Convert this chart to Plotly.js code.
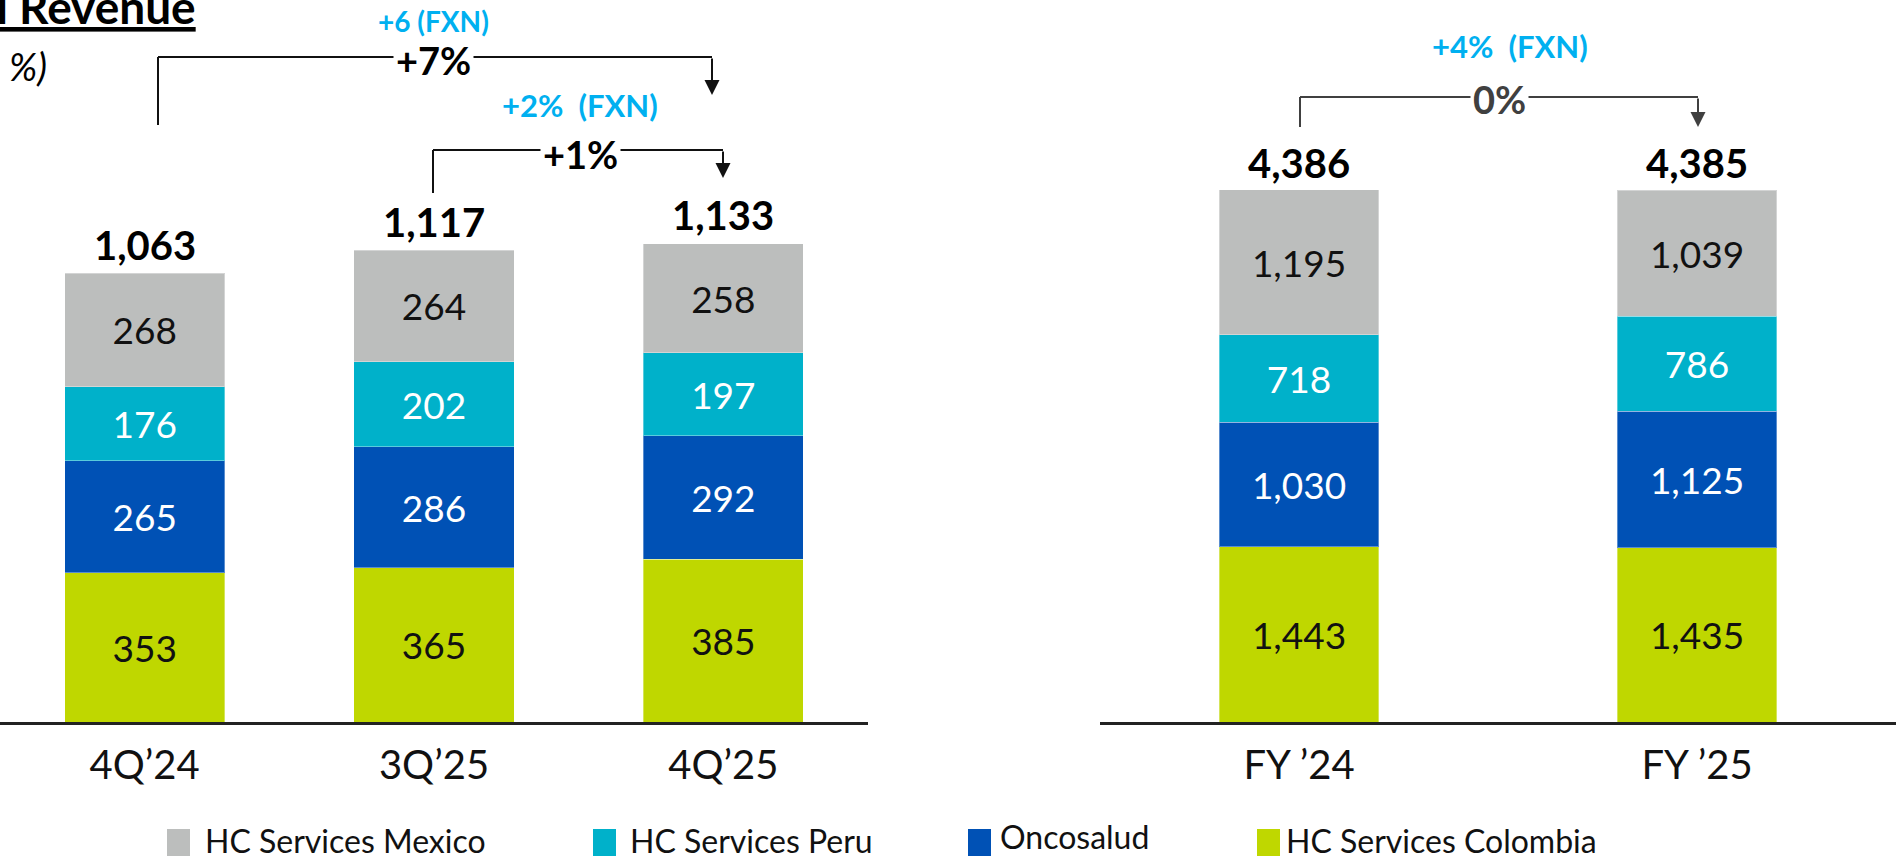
<!DOCTYPE html>
<html>
<head>
<meta charset="utf-8">
<script src="https://cdn.plot.ly/plotly-3.0.1.min.js"></script>
<style>
  html, body { margin: 0; padding: 0; background: #ffffff; }
  #chart { width: 1896px; height: 861px; }
</style>
</head>
<body>
<div id="chart"></div>
<script>
// ---------------- DATA ----------------
const quarterCats = ["4Q\u201924", "3Q\u201925", "4Q\u201925"];
const fyCats = ["FY \u201924", "FY \u201925"];

const seriesNames = ["HC Services Mexico", "HC Services Peru", "Oncosalud", "HC Services Colombia"];

const colombiaQ = [353, 365, 385];
const oncosaludQ = [265, 286, 292];
const peruQ = [176, 202, 197];
const mexicoQ = [268, 264, 258];
const totalsQ = [1063, 1117, 1133];

const colombiaFY = [1443, 1435];
const oncosaludFY = [1030, 1125];
const peruFY = [718, 786];
const mexicoFY = [1195, 1039];
const totalsFY = [4386, 4385];

const growthLabels = ["+7%", "+1%", "0%"];
const fxnLabels = ["+6 (FXN)", "+2%  (FXN)", "+4%  (FXN)"];

// ---------------- STYLE ----------------
const FONT = "Lato, 'Noto Sans', sans-serif";
const colMexico = "#BCBEBD";
const colPeru = "#00B1CA";
const colOnco = "#0051B5";
const colColombia = "#BFD700";
const cyanText = "#00B0F0";

const W = 1896, H = 861;
const px = v => v / W;
const py = v => 1 - v / H;

function barTrace(x, y, name, color, textColor, xa, ya, width) {
  return {
    type: "bar", x: x, y: y, name: name, xaxis: xa, yaxis: ya,
    marker: { color: color, line: { color: "rgba(255,255,255,0.35)", width: 1 } },
    width: x.map(() => width),
    texttemplate: "%{y:,}", textposition: "inside", insidetextanchor: "middle",
    textangle: 0, constraintext: "none",
    textfont: { family: FONT, size: 37, color: textColor },
    hoverinfo: "skip", showlegend: false
  };
}

const wQ = 0.554, wFY = 0.40;
const data = [
  barTrace(quarterCats, colombiaQ, seriesNames[3], colColombia, "#111111", "x", "y", wQ),
  barTrace(quarterCats, oncosaludQ, seriesNames[2], colOnco, "#ffffff", "x", "y", wQ),
  barTrace(quarterCats, peruQ, seriesNames[1], colPeru, "#ffffff", "x", "y", wQ),
  barTrace(quarterCats, mexicoQ, seriesNames[0], colMexico, "#111111", "x", "y", wQ),
  barTrace(fyCats, colombiaFY, seriesNames[3], colColombia, "#111111", "x2", "y2", wFY),
  barTrace(fyCats, oncosaludFY, seriesNames[2], colOnco, "#ffffff", "x2", "y2", wFY),
  barTrace(fyCats, peruFY, seriesNames[1], colPeru, "#ffffff", "x2", "y2", wFY),
  barTrace(fyCats, mexicoFY, seriesNames[0], colMexico, "#111111", "x2", "y2", wFY)
];

const fmt = v => v.toLocaleString("en-US");
const annotations = [];

// totals above bars
totalsQ.forEach((t, i) => annotations.push({
  xref: "x", yref: "y", x: quarterCats[i], y: t, text: "<b>" + fmt(t) + "</b>",
  showarrow: false, yanchor: "middle", yshift: 28,
  font: { family: FONT, size: 40, color: "#000000" }
}));
totalsFY.forEach((t, i) => annotations.push({
  xref: "x2", yref: "y2", x: fyCats[i], y: t, text: "<b>" + fmt(t) + "</b>",
  showarrow: false, yanchor: "middle", yshift: 27,
  font: { family: FONT, size: 40, color: "#000000" }
}));

// Title (cut off at left edge, as in reference)
annotations.push({
  xref: "paper", yref: "paper", x: px(198), y: py(6), xanchor: "right", yanchor: "middle",
  text: "<b><u>Total Revenue</u></b>", showarrow: false,
  font: { family: FONT, size: 46, color: "#000000" }
});
annotations.push({
  xref: "paper", yref: "paper", x: px(49), y: py(66), xanchor: "right", yanchor: "middle",
  text: "<i>(S/ MM, %)</i>", showarrow: false,
  font: { family: FONT, size: 38, color: "#000000" }
});

// growth brackets (pixel positions of the connectors)
const brackets = [
  { x0: 158, x1: 712, yl: 57, ys: 125, ye: 95, lx: 433, ly: 60, fx: 433, fy: 21, fs: 28, c: "#111111", lc: "#000000" },
  { x0: 433, x1: 723, yl: 150, ys: 193, ye: 178, lx: 580, ly: 154, fx: 580, fy: 105, fs: 31, c: "#111111", lc: "#000000" },
  { x0: 1300, x1: 1698, yl: 97, ys: 127, ye: 127, lx: 1499, ly: 99, fx: 1510, fy: 46, fs: 31, c: "#404040", lc: "#404040" }
];
const shapes = [];
brackets.forEach((b, i) => {
  shapes.push({ type: "line", xref: "paper", yref: "paper", x0: px(b.x0), x1: px(b.x0), y0: py(b.ys), y1: py(b.yl), line: { color: b.c, width: 2 } });
  shapes.push({ type: "line", xref: "paper", yref: "paper", x0: px(b.x0), x1: px(b.x1), y0: py(b.yl), y1: py(b.yl), line: { color: b.c, width: 2 } });
  annotations.push({
    xref: "paper", yref: "paper", x: px(b.x1), y: py(b.ye), ax: 0, ay: -(b.ye - b.yl),
    axref: "pixel", ayref: "pixel", text: "", showarrow: true,
    arrowhead: 2, arrowsize: 1.5, arrowwidth: 2, arrowcolor: b.c, standoff: 0
  });
  annotations.push({
    xref: "paper", yref: "paper", x: px(b.lx), y: py(b.ly), xanchor: "center", yanchor: "middle",
    text: "<b>" + growthLabels[i] + "</b>", showarrow: false, bgcolor: "#ffffff", borderpad: 2,
    font: { family: FONT, size: 38, color: b.lc }
  });
  annotations.push({
    xref: "paper", yref: "paper", x: px(b.fx), y: py(b.fy), xanchor: "center", yanchor: "middle",
    text: "<b>" + fxnLabels[i] + "</b>", showarrow: false,
    font: { family: FONT, size: b.fs, color: cyanText }
  });
});

// custom legend
const legendItems = [
  { sx: 167, tx: 203, ty: 840, color: colMexico, name: seriesNames[0] },
  { sx: 593, tx: 628, ty: 840, color: colPeru, name: seriesNames[1] },
  { sx: 968, tx: 998, ty: 836, color: colOnco, name: seriesNames[2] },
  { sx: 1257, tx: 1284, ty: 840, color: colColombia, name: seriesNames[3] }
];
legendItems.forEach(it => {
  shapes.push({ type: "rect", xref: "paper", yref: "paper", x0: px(it.sx), x1: px(it.sx + 23), y0: py(856), y1: py(829), fillcolor: it.color, line: { width: 0 } });
  annotations.push({
    xref: "paper", yref: "paper", x: px(it.tx), y: py(it.ty), xanchor: "left", yanchor: "middle",
    text: it.name, showarrow: false, font: { family: FONT, size: 32, color: "#111111" }
  });
});

const yBottom = 1 - 722 / H;
const tickFont = { family: FONT, size: 40, color: "#111111" };
const layout = {
  width: W, height: H,
  margin: { l: 0, r: 0, t: 0, b: 0, pad: 0 },
  paper_bgcolor: "#ffffff", plot_bgcolor: "#ffffff",
  barmode: "stack",
  showlegend: false,
  uniformtext: { minsize: 37, mode: "show" },
  xaxis: {
    domain: [0, 868 / W], type: "category", range: [-0.5, 2.5],
    showline: true, linecolor: "#222222", linewidth: 3,
    ticks: "outside", ticklen: 6, tickcolor: "rgba(0,0,0,0)",
    tickfont: tickFont,
    showgrid: false, zeroline: false, fixedrange: true
  },
  yaxis: {
    domain: [yBottom, 1], range: [0, 1709], visible: false, fixedrange: true
  },
  xaxis2: {
    domain: [1100 / W, 1], type: "category", range: [-0.5, 1.5], anchor: "y2",
    showline: true, linecolor: "#222222", linewidth: 3,
    ticks: "outside", ticklen: 6, tickcolor: "rgba(0,0,0,0)",
    tickfont: tickFont,
    showgrid: false, zeroline: false, fixedrange: true
  },
  yaxis2: {
    domain: [yBottom, 1], range: [0, 5952], visible: false, anchor: "x2", fixedrange: true
  },
  shapes: shapes,
  annotations: annotations
};

Plotly.newPlot("chart", data, layout, { displayModeBar: false, staticPlot: true });
</script>
</body>
</html>
